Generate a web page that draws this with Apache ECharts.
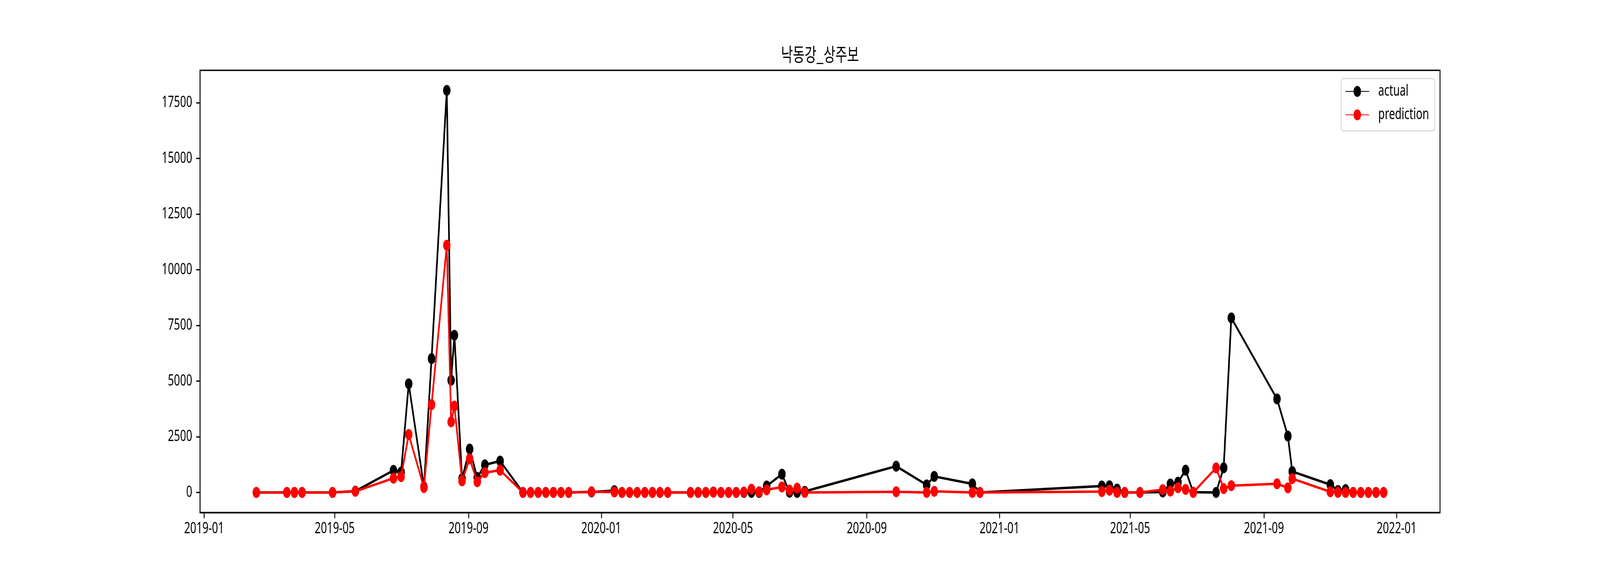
<!DOCTYPE html>
<html>
<head>
<meta charset="utf-8">
<title>낙동강_상주보</title>
<script src="https://cdn.jsdelivr.net/npm/echarts@6/dist/echarts.min.js"></script>
<style>
  html, body { margin: 0; padding: 0; background: #fff; overflow: hidden; }
  #myChart { width: 6000px; height: 1500px; transform-origin: 0 0; }
</style>
</head>
<body>
<div id="myChart"></div>
<script>
// weekly samples (mostly Mondays)
var dates = [
  '2019-02-18','2019-03-18','2019-03-25','2019-04-01','2019-04-29','2019-05-20',
  '2019-06-24','2019-07-01','2019-07-08','2019-07-22','2019-07-29',
  '2019-08-12','2019-08-16','2019-08-19','2019-08-26',
  '2019-09-02','2019-09-09','2019-09-16','2019-09-30',
  '2019-10-21','2019-10-28','2019-11-04','2019-11-11','2019-11-18','2019-11-25','2019-12-02',
  '2019-12-23',
  '2020-01-13','2020-01-20','2020-01-27','2020-02-03','2020-02-10','2020-02-17','2020-02-24','2020-03-02',
  '2020-03-23','2020-03-30','2020-04-06','2020-04-13','2020-04-20','2020-04-27',
  '2020-05-04','2020-05-11','2020-05-18','2020-05-25','2020-06-01','2020-06-15','2020-06-22','2020-06-29','2020-07-06',
  '2020-09-28','2020-10-26','2020-11-02','2020-12-07','2020-12-14',
  '2021-04-05','2021-04-12','2021-04-19','2021-04-26','2021-05-10',
  '2021-05-31','2021-06-07','2021-06-14','2021-06-21','2021-06-28',
  '2021-07-19','2021-07-26','2021-08-02','2021-09-13','2021-09-23','2021-09-27',
  '2021-11-01','2021-11-08','2021-11-15','2021-11-22','2021-11-29','2021-12-06','2021-12-13','2021-12-20'
];
var actual = [
  0, 0, 0, 0, 0, 60,
  990, 915, 4880, 250, 6010,
  18055, 5040, 7060, 620,
  1950, 670, 1240, 1410,
  0, 0, 0, 0, 0, 0, 0,
  20,
  80, 0, 0, 0, 0, 0, 0, 0,
  0, 0, 0, 20, 0, 0,
  0, 0, 0, 0, 290, 820, 10, 0, 47,
  1180, 340, 720, 385, 0,
  290, 300, 150, 0, 0,
  20, 380, 460, 1000, 10,
  0, 1110, 7840, 4200, 2530, 940,
  350, 90, 130, 0, 0, 0, 0, 0
];
var prediction = [
  0, 0, 0, 0, 0, 50,
  640, 710, 2600, 220, 3940,
  11100, 3170, 3880, 520,
  1510, 480, 890, 1000,
  0, 0, 0, 0, 0, 0, 0,
  30,
  20, 0, 0, 0, 0, 0, 0, 0,
  0, 0, 0, 10, 0, 0,
  0, 20, 146, 30, 117, 246, 105, 193, 0,
  30, 0, 50, 0, 0,
  40, 100, 0, 0, 0,
  125, 60, 210, 135, 0,
  1100, 170, 305, 390, 205, 620,
  30, 0, 0, 0, 0, 0, 0, 0
];
var xTickLabels = ['2019-01','2019-05','2019-09','2020-01','2020-05','2020-09','2021-01','2021-05','2021-09','2022-01'];
var yTickValues = [0, 2500, 5000, 7500, 10000, 12500, 15000, 17500];

function toTime(s){
  var p = s.split('-');
  return new Date(+p[0], +p[1] - 1, p[2] ? +p[2] : 1).getTime();
}
function pad2(n){ return n < 10 ? '0' + n : '' + n; }

var times = dates.map(toTime);
var xTicks = xTickLabels.map(toTime);

// matplotlib style auto limits (5% margins)
var tMin = Math.min.apply(null, times), tMax = Math.max.apply(null, times);
var tPad = (tMax - tMin) * 0.05;
var all = actual.concat(prediction);
var vMin = Math.min.apply(null, all), vMax = Math.max.apply(null, all);
var vPad = (vMax - vMin) * 0.05;

function pairs(vals){
  return times.map(function(t, i){ return [t, vals[i]]; });
}

var tickFont = { fontFamily: 'Noto Sans', fontSize: 40, color: '#000' };

var option = {
  animation: false,
  backgroundColor: '#fff',
  title: {
    text: '낙동강_상주보',
    left: 3075,
    top: 115,
    padding: 0,
    textAlign: 'center',
    textStyle: { fontFamily: 'Noto Sans CJK KR', fontSize: 48, fontWeight: 'normal', color: '#000' }
  },
  legend: {
    data: ['actual', 'prediction'],
    orient: 'vertical',
    right: 620,
    top: 201,
    itemWidth: 89,
    itemHeight: 35,
    itemGap: 20,
    padding: [13, 21, 21, 15],
    borderColor: '#d6d6d6',
    borderWidth: 3,
    borderRadius: 8,
    backgroundColor: 'rgba(255,255,255,0.8)',
    textStyle: { fontFamily: 'Noto Sans', fontSize: 40, color: '#000', padding: [0, 0, 0, 29] }
  },
  grid: {
    left: 750,
    right: 600,
    top: 180,
    bottom: 188,
    show: true,
    borderColor: '#000',
    borderWidth: 3.3,
    containLabel: false,
    outerBoundsMode: 'none'
  },
  xAxis: {
    // dates kept as timestamps on a plain value scale so custom ticks work
    type: 'value',
    min: tMin - tPad,
    max: tMax + tPad,
    splitLine: { show: false },
    axisLine: { show: true, onZero: false, lineStyle: { color: '#000', width: 3.3 } },
    axisTick: { show: true, inside: false, length: 14.6, customValues: xTicks, lineStyle: { color: '#000', width: 3.3 } },
    axisLabel: {
      customValues: xTicks,
      margin: 22,
      fontFamily: tickFont.fontFamily, fontSize: tickFont.fontSize, color: tickFont.color,
      formatter: function(v){
        var d = new Date(v);
        return d.getFullYear() + '-' + pad2(d.getMonth() + 1);
      }
    }
  },
  yAxis: {
    type: 'value',
    min: vMin - vPad,
    max: vMax + vPad,
    splitLine: { show: false },
    axisLine: { show: true, onZero: false, lineStyle: { color: '#000', width: 3.3 } },
    axisTick: { show: true, inside: false, length: 14.6, customValues: yTickValues, lineStyle: { color: '#000', width: 3.3 } },
    axisLabel: {
      customValues: yTickValues,
      margin: 29,
      fontFamily: tickFont.fontFamily, fontSize: tickFont.fontSize, color: tickFont.color,
      formatter: function(v){ return String(v); }
    }
  },
  series: [
    {
      name: 'actual',
      type: 'line',
      z: 2,
      data: pairs(actual),
      symbol: 'circle',
      symbolSize: 28,
      showSymbol: true,
      showAllSymbol: true,
      color: '#000',
      itemStyle: { color: '#000', borderWidth: 0 },
      lineStyle: { color: '#000', width: 6.25 },
      emphasis: { disabled: true }
    },
    {
      name: 'prediction',
      type: 'line',
      z: 3,
      data: pairs(prediction),
      symbol: 'circle',
      symbolSize: 28,
      showSymbol: true,
      showAllSymbol: true,
      color: '#ff0000',
      itemStyle: { color: '#ff0000', borderWidth: 0 },
      lineStyle: { color: '#ff0000', width: 6.25 },
      emphasis: { disabled: true }
    }
  ]
};

var el = document.getElementById('myChart');
var myChart = echarts.init(el, null, { renderer: 'canvas', devicePixelRatio: 1 });
myChart.setOption(option);

// squeeze the 6000x1500 drawing into the window if the window is smaller
var vw = window.innerWidth, vh = window.innerHeight;
if (vw && vh && (vw < 6000 || vh < 1500)) {
  el.style.transform = 'scale(' + Math.min(1, vw / 6000) + ',' + Math.min(1, vh / 1500) + ')';
}
</script>
</body>
</html>
